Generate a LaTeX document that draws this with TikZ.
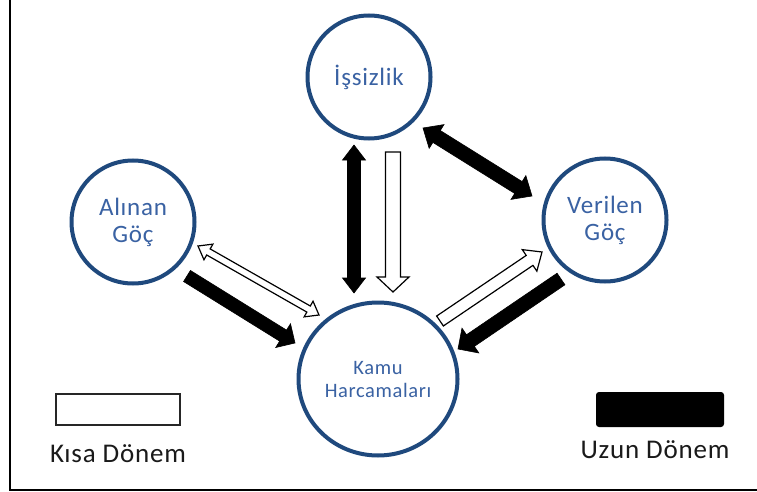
\documentclass[tikz,border=0pt]{standalone}
\usepackage{fontspec}
\setmainfont{Carlito}
\newfontfamily\lblfont[LetterSpace=3]{Carlito}
\usetikzlibrary{calc,shapes.geometric}
\definecolor{ringblue}{HTML}{1F497D}
\definecolor{txtblue}{HTML}{3A62A3}
\definecolor{legtxt}{HTML}{1A1A1A}
% single block arrow: style, from, to, half shaft, half head, head length
\newcommand{\sblock}[6]{%
  \draw[#1] ($(#2)!#4pt!90:(#3)$) -- ($(#3)!#6pt!(#2)!#4pt!-90:(#2)$)
    -- ($(#3)!#6pt!(#2)!#5pt!-90:(#2)$) -- (#3)
    -- ($(#3)!#6pt!(#2)!#5pt!90:(#2)$) -- ($(#3)!#6pt!(#2)!#4pt!90:(#2)$)
    -- ($(#2)!#4pt!-90:(#3)$) -- cycle;}
% double block arrow
\newcommand{\dblock}[6]{%
  \draw[#1] (#2) -- ($(#2)!#6pt!(#3)!#5pt!90:(#3)$) -- ($(#2)!#6pt!(#3)!#4pt!90:(#3)$)
    -- ($(#3)!#6pt!(#2)!#4pt!-90:(#2)$) -- ($(#3)!#6pt!(#2)!#5pt!-90:(#2)$) -- (#3)
    -- ($(#3)!#6pt!(#2)!#5pt!90:(#2)$) -- ($(#3)!#6pt!(#2)!#4pt!90:(#2)$)
    -- ($(#2)!#6pt!(#3)!#4pt!-90:(#3)$) -- ($(#2)!#6pt!(#3)!#5pt!-90:(#3)$) -- cycle;}
\tikzset{
  ring/.style={circle, draw=ringblue, line width=4pt, fill=white, minimum size=123pt,
    inner sep=0pt, align=center, text=txtblue, font=\lblfont\fontsize{25}{27}\selectfont},
  blackarr/.style={fill=black, draw=black, line width=0.6pt, line join=miter},
  whitearr/.style={fill=white, draw=black, line width=1.2pt, line join=miter},
  legtext/.style={text=legtxt, font=\lblfont\fontsize{27}{30}\selectfont, inner sep=0pt},
}
\begin{document}
\begin{tikzpicture}[x=1pt,y=-1pt]
\useasboundingbox (0,0) rectangle (757,492);
\fill[white] (0,0) rectangle (757,492);
\draw[line width=2pt] (9.5,0) -- (9.5,490) -- (757,490);

\node[ring] (iss) at (369,77) {İşsizlik};
\node[ring] (alinan) at (133,222) {Alınan\\Göç};
\node[ring] (verilen) at (605,220) {Verilen\\Göç};
\node[ellipse, draw=ringblue, line width=4pt, fill=white, minimum width=159pt, minimum height=153pt,
  inner sep=0pt, align=center, text=txtblue, font=\lblfont\fontsize{20.5}{23}\selectfont]
  (kamu) at (378,379) {Kamu\\Harcamaları};

% arrow end points
\coordinate (v1a) at (354,145);
\coordinate (v1b) at (354,293);
\coordinate (v2a) at (393,152);
\coordinate (v2b) at (393,292);
\coordinate (d1a) at (423,128);
\coordinate (d1b) at (532,196);
\coordinate (w1a) at (198,246);
\coordinate (w1b) at (319,315);
\coordinate (b1a) at (187,276);
\coordinate (b1b) at (295,343);
\coordinate (w2a) at (440,321);
\coordinate (w2b) at (542,252);
\coordinate (b2a) at (561,279);
\coordinate (b2b) at (458,349);

\dblock{blackarr}{v1a}{v1b}{6.5}{11.5}{15}
\sblock{whitearr}{v2a}{v2b}{7.5}{16}{15}
\dblock{blackarr}{d1a}{d1b}{7}{14}{16}
\dblock{whitearr}{w1a}{w1b}{3.5}{9}{12}
\sblock{blackarr}{b1a}{b1b}{6.5}{14}{14}
\sblock{whitearr}{w2a}{w2b}{6}{13}{15}
\sblock{blackarr}{b2a}{b2b}{7}{15}{15}

% legend
\node[draw=black!85, line width=1.5pt, minimum width=124pt, minimum height=31pt, inner sep=0pt] (kbox) at (118,409.5) {};
\node[legtext] (ktext) at (118,454) {Kısa Dönem};
\node[fill=black, rounded corners=3pt, minimum width=128pt, minimum height=35pt, inner sep=0pt] (ubox) at (660,409.5) {};
\node[legtext] (utext) at (655,450) {Uzun Dönem};
\end{tikzpicture}
\end{document}
